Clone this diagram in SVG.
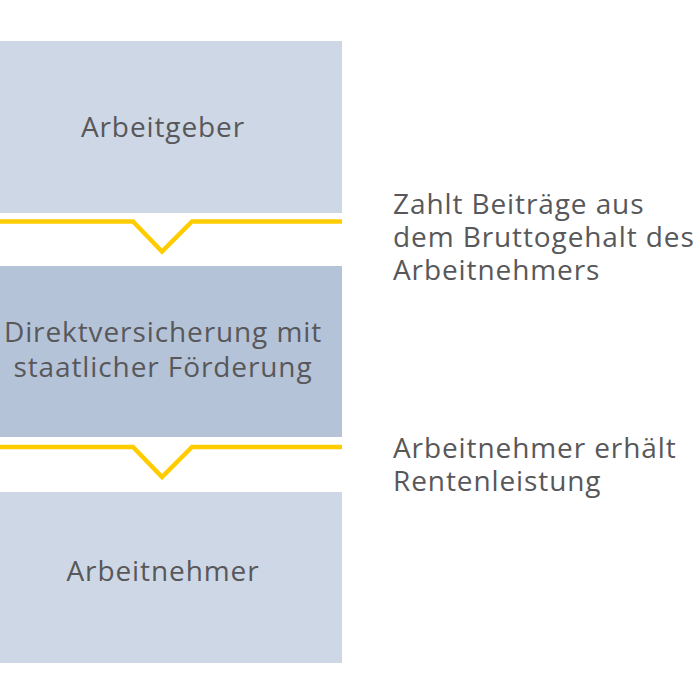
<svg xmlns="http://www.w3.org/2000/svg" width="700" height="700" viewBox="0 0 700 700">
<style>
text{font-family:"Open Sans","Noto Sans","DejaVu Sans",sans-serif;font-size:28px;letter-spacing:0.9px;fill:#58585a}
.c{text-anchor:middle}
.y{fill:none;stroke:#FFCC00;stroke-width:4.5}
</style>
<rect width="700" height="700" fill="#fff"/>
<g id="arbeitgeber"><rect x="0" y="41" width="342" height="172" fill="#CDD7E5"/><text class="c" x="163" y="137">Arbeitgeber</text></g>
<g id="direktversicherung"><rect x="0" y="266" width="342" height="171" fill="#B5C3D9"/><text class="c" x="163" y="342">Direktversicherung mit</text><text class="c" x="163" y="377">staatlicher Förderung</text></g>
<g id="arbeitnehmer"><rect x="0" y="492" width="342" height="171" fill="#CDD7E5"/><text class="c" x="163" y="581">Arbeitnehmer</text></g>
<g id="connectors">
<polyline class="y" points="0,221.5 133,221.5 162,251.5 192,221.5 342,221.5"/>
<polyline class="y" points="0,447 133,447 162,477 192,447 342,447"/>
</g>
<g id="labels">
<text x="393" y="214">Zahlt Beiträge aus</text>
<text x="393" y="247">dem Bruttogehalt des</text>
<text x="393" y="280">Arbeitnehmers</text>
<text x="393" y="458">Arbeitnehmer erhält</text>
<text x="393" y="491">Rentenleistung</text>
</g>
</svg>
